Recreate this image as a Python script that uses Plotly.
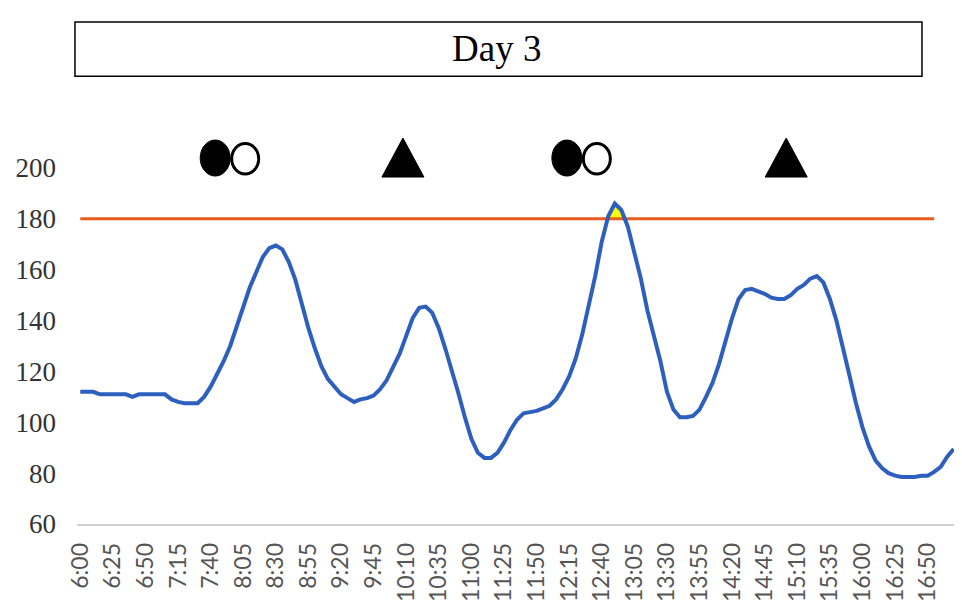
import plotly.graph_objects as go

# ---- data ----
glucose = [
    112, 112, 112, 111, 111, 111, 111, 111, 110, 111,
    111, 111, 111, 111, 109, 108, 107.5, 107.5, 107.5, 110,
    114, 119, 124, 130, 138, 146, 153, 159, 165, 168.5,
    169.5, 168, 163, 156, 146, 137, 129, 122, 117, 114,
    111, 109.5, 108, 109, 109.5, 110.5, 113, 116.5, 121.5, 127,
    134, 141, 145, 145.5, 143, 137, 129, 120.5, 111.5, 102,
    93.5, 88, 86, 86, 88, 92, 97, 101, 103.5, 104,
    104.5, 105.5, 106.5, 109, 113, 118, 125, 134.5, 145.5, 157.5,
    171, 181, 186, 183.5, 177, 167, 156.5, 144, 134, 124,
    112, 105, 102, 102, 102.5, 105, 110, 115.5, 123, 132,
    141, 148.5, 152, 152.5, 151.5, 150.5, 149, 148.5, 148.5, 150,
    152.5, 154, 156.5, 157.5, 155, 148.5, 140, 130, 118.5, 107.5,
    98, 90.5, 85, 82, 80, 79, 78.5, 78.5, 78.5, 79,
    79, 80.5, 82.5, 86.5, 89.5,
]
threshold = 180
threshold_points = 132          # orange line runs 6:00 .. 16:55
tick_labels = ["6:00", "6:25", "6:50", "7:15", "7:40", "8:05", "8:30", "8:55",
               "9:20", "9:45", "10:10", "10:35", "11:00", "11:25", "11:50",
               "12:15", "12:40", "13:05", "13:30", "13:55", "14:20", "14:45",
               "15:10", "15:35", "16:00", "16:25", "16:50"]
y_ticks = [60, 80, 100, 120, 140, 160, 180, 200]

# event symbols (position on the 5-minute index scale)
meal_filled_pos = [20.7, 74.65]
meal_open_pos = [25.3, 79.25]
exercise_pos = [49.5, 108.3]

# ---- derived ----
times = [f"{6 + (5 * i) // 60}:{(5 * i) % 60:02d}" for i in range(len(glucose))]
idx = list(range(len(glucose)))
tick_idx = [times.index(t) for t in tick_labels]

# yellow area above threshold (crossings interpolated from the data)
fx, fy = [], []
for i in range(len(glucose) - 1):
    a, b = glucose[i], glucose[i + 1]
    if a <= threshold < b:
        fx.append(i + (threshold - a) / (b - a)); fy.append(threshold)
    if b > threshold:
        fx.append(i + 1); fy.append(b)
    if a > threshold >= b:
        fx.append(i + (a - threshold) / (a - b)); fy.append(threshold)

fig = go.Figure()
fig.add_trace(go.Scatter(x=fx, y=fy, fill="toself", fillcolor="#FFFF00",
                         line=dict(width=0), mode="lines", hoverinfo="skip"))
fig.add_trace(go.Scatter(x=idx[:threshold_points], y=[threshold] * threshold_points,
                         mode="lines", line=dict(color="#EC5B1E", width=3)))
fig.add_trace(go.Scatter(x=idx, y=glucose, mode="lines",
                         line=dict(color="#2D5FBE", width=4)))

shapes = []
ya = 1.028  # just above the plot top (paper fraction)
for p in meal_filled_pos:
    shapes.append(dict(type="circle", xref="x", yref="paper", xsizemode="pixel",
                       ysizemode="pixel", xanchor=p, yanchor=ya,
                       x0=-15, x1=15, y0=-18, y1=18,
                       fillcolor="black", line=dict(color="black", width=1)))
for p in meal_open_pos:
    shapes.append(dict(type="circle", xref="x", yref="paper", xsizemode="pixel",
                       ysizemode="pixel", xanchor=p, yanchor=ya,
                       x0=-13.5, x1=13.5, y0=-16, y1=14.5,
                       fillcolor="white", line=dict(color="black", width=3)))
for p in exercise_pos:
    shapes.append(dict(type="path", xref="x", yref="paper", xsizemode="pixel",
                       ysizemode="pixel", xanchor=p, yanchor=ya,
                       path="M-21,-19 L21,-19 L0,20 Z",
                       fillcolor="black", line=dict(color="black", width=1)))
# title box
shapes.append(dict(type="rect", xref="paper", yref="paper",
                   x0=-0.0023, x1=0.9602, y0=1.258, y1=1.410,
                   line=dict(color="black", width=1.5), fillcolor="white"))

fig.update_layout(
    width=954, height=594,
    margin=dict(l=69, r=5, t=160, b=78),
    paper_bgcolor="white", plot_bgcolor="white",
    showlegend=False,
    shapes=shapes,
    annotations=[dict(text="Day 3", xref="paper", yref="paper", x=0.477, y=1.336,
                      showarrow=False, xanchor="center", yanchor="middle",
                      font=dict(family="Liberation Serif", size=37, color="black"))],
    xaxis=dict(range=[-0.5, len(glucose) - 0.5], tickmode="array",
               tickvals=tick_idx, ticktext=tick_labels, tickangle=-90,
               showgrid=False, zeroline=False, showline=True,
               linecolor="#D0D0D0", linewidth=1.5, ticks="",
               ticklabelstandoff=8, automargin=False,
               tickfont=dict(family="Lato", size=23, color="#555555")),
    yaxis=dict(range=[60, 200], tickmode="array", tickvals=y_ticks,
               showgrid=False, zeroline=False, showline=False, ticks="",
               ticklabelstandoff=20, automargin=False,
               tickfont=dict(family="Liberation Serif", size=27, color="#333333")),
)

fig.write_html("out.html")
